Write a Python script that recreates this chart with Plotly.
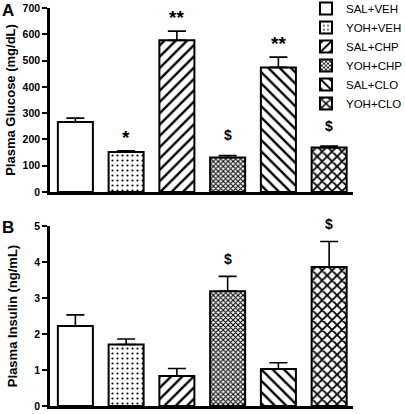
import plotly.graph_objects as go
from plotly.subplots import make_subplots

categories = ["SAL+VEH", "YOH+VEH", "SAL+CHP", "YOH+CHP", "SAL+CLO", "YOH+CLO"]
glucose = [266, 152, 577, 131, 474, 169]
glucose_sem = [15, 5, 35, 8, 39, 6]
glucose_marks = ["", "*", "**", "$", "**", "$"]
insulin = [2.22, 1.71, 0.83, 3.19, 1.03, 3.86]
insulin_sem = [0.31, 0.15, 0.21, 0.41, 0.17, 0.71]
insulin_marks = ["", "", "", "$", "", "$"]
glucose_ticks = [0, 100, 200, 300, 400, 500, 600, 700]
insulin_ticks = [0, 1, 2, 3, 4, 5]

patterns = [
    dict(shape=""),
    dict(shape=".", size=5, solidity=0.15, fgcolor="black", bgcolor="white", fgopacity=1),
    dict(shape="/", size=8, solidity=0.3, fgcolor="black", bgcolor="white", fgopacity=1),
    dict(shape="x", size=3.5, solidity=0.5, fgcolor="black", bgcolor="white", fgopacity=1),
    dict(shape="\\", size=8, solidity=0.3, fgcolor="black", bgcolor="white", fgopacity=1),
    dict(shape="x", size=7, solidity=0.45, fgcolor="black", bgcolor="white", fgopacity=1),
]

FONT = "Arial, Liberation Sans, sans-serif"
H = 414
T, B = 8, 8
PH = H - T - B
def py(pix):
    return min(1.0, max(0.0, (H - B - pix) / PH))

fig = make_subplots(rows=2, cols=1)

for i, cat in enumerate(categories):
    fig.add_trace(go.Bar(
        x=[cat], y=[glucose[i]], name=cat, legendgroup=cat, showlegend=True,
        width=0.69,
        marker=dict(color="white", line=dict(color="black", width=2), pattern=patterns[i]),
        error_y=dict(type="data", symmetric=False, array=[glucose_sem[i]], arrayminus=[0],
                     color="black", thickness=1.6, width=9),
    ), row=1, col=1)
    fig.add_trace(go.Bar(
        x=[cat], y=[insulin[i]], name=cat, legendgroup=cat, showlegend=False,
        width=0.69,
        marker=dict(color="white", line=dict(color="black", width=2), pattern=patterns[i]),
        error_y=dict(type="data", symmetric=False, array=[insulin_sem[i]], arrayminus=[0],
                     color="black", thickness=1.6, width=9),
    ), row=2, col=1)

for i, cat in enumerate(categories):
    if glucose_marks[i]:
        star = "*" in glucose_marks[i]
        fig.add_annotation(x=cat, y=glucose[i] + glucose_sem[i], xref="x", yref="y",
                           text=glucose_marks[i], showarrow=False, yanchor="bottom",
                           yshift=1 if star else 10,
                           font=dict(family=FONT, size=19 if star else 14,
                                     color="black", weight="bold"))
    if insulin_marks[i]:
        fig.add_annotation(x=cat, y=insulin[i] + insulin_sem[i], xref="x2", yref="y2",
                           text=insulin_marks[i], showarrow=False, yanchor="bottom", yshift=7,
                           font=dict(family=FONT, size=14, color="black", weight="bold"))

fig.add_annotation(x=-50/303, y=py(10), xref="paper", yref="paper", text="A", showarrow=False,
                   xanchor="left", yanchor="middle",
                   font=dict(family=FONT, size=17, color="black", weight="bold"))
fig.add_annotation(x=-50/303, y=py(228), xref="paper", yref="paper", text="B", showarrow=False,
                   xanchor="left", yanchor="middle",
                   font=dict(family=FONT, size=17, color="black", weight="bold"))

axis_common = dict(showline=True, linecolor="black", linewidth=2.5, showgrid=False, zeroline=False)
fig.update_xaxes(**axis_common, showticklabels=False, ticks="", range=[-0.5, 5.47],
                 categoryorder="array", categoryarray=categories)
fig.update_yaxes(**axis_common, ticks="outside", ticklen=5, tickwidth=2, tickcolor="black",
                 tickfont=dict(family=FONT, size=10.5, color="black", weight="bold"))
fig.update_yaxes(range=[0, 700], tickvals=glucose_ticks, row=1, col=1,
                 title=dict(text="Plasma Glucose (mg/dL)", standoff=5,
                            font=dict(family=FONT, size=13, color="black", weight="bold")))
fig.update_yaxes(range=[0, 5], tickvals=insulin_ticks, row=2, col=1,
                 title=dict(text="Plasma Insulin (ng/mL)", standoff=14,
                            font=dict(family=FONT, size=13, color="black", weight="bold")))

fig.update_layout(
    width=405, height=H,
    margin=dict(l=50, r=52, t=T, b=B, autoexpand=False),
    barmode="overlay",
    plot_bgcolor="white", paper_bgcolor="white",
    yaxis=dict(domain=[py(192), py(8)]),
    yaxis2=dict(domain=[0.0, py(226)]),
    legend=dict(x=(306-50)/303, y=1.035, xanchor="left", yanchor="top",
                bgcolor="rgba(0,0,0,0)", tracegroupgap=0, itemwidth=30,
                font=dict(family=FONT, size=11.5, color="black")),
    showlegend=True,
)

fig.write_html("out.html", config={"displayModeBar": False},
               post_script="document.body.style.margin='0';")
